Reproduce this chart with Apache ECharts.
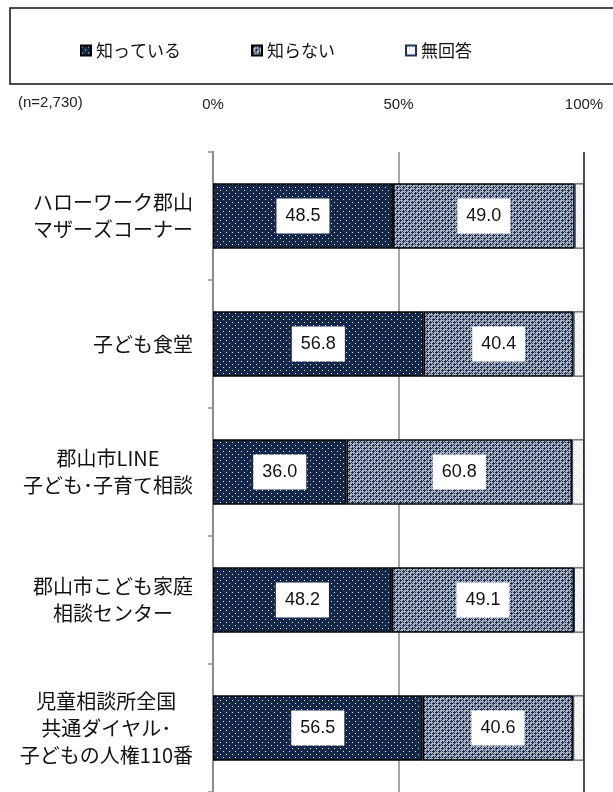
<!DOCTYPE html>
<html>
<head>
<meta charset="utf-8">
<script src="https://cdn.jsdelivr.net/npm/echarts@6/dist/echarts.min.js"></script>
<style>
html,body{margin:0;padding:0;background:#fff;}
#chart{width:613px;height:792px;}
</style>
</head>
<body>
<div id="chart"></div>
<script>
// ---- data ----
const categories = [
  'ハローワーク郡山\nマザーズコーナー',
  '子ども食堂',
  '郡山市LINE\n子ども･子育て相談',
  '郡山市こども家庭\n相談センター',
  '児童相談所全国\n共通ダイヤル･\n子どもの人権110番'
];
const seriesNames = ['知っている', '知らない', '無回答'];
const knowValues = [48.5, 56.8, 36.0, 48.2, 56.5];
const dontKnowValues = [49.0, 40.4, 60.8, 49.1, 40.6];
const noAnswerValues = [2.5, 2.8, 3.2, 2.7, 2.9];
const xTicks = [0, 50, 100];
const sampleNote = '(n=2,730)';

// ---- patterns ----
function makePattern(w, h, bg, fg, pixels) {
  const c = document.createElement('canvas');
  c.width = w; c.height = h;
  const ctx = c.getContext('2d');
  ctx.fillStyle = bg; ctx.fillRect(0, 0, w, h);
  ctx.fillStyle = fg;
  pixels.forEach(p => ctx.fillRect(p[0], p[1], p[2] || 1, p[3] || 1));
  return c;
}
const patKnow = makePattern(6, 6, '#162849', '#e2e8f0', [[1,1],[4,4]]);
const patDont = makePattern(6, 6, '#a9b3c1', '#1c2d4d',
  [[1,0],[0,1],[1,1],[2,1],[1,2],[4,3],[3,4],[4,4],[5,4],[4,5],[4,1],[1,4],[3,0],[0,3]]);
const patNo = makePattern(6, 6, '#f7f5f2', '#dcd7d2', [[1,1],[4,4]]);

const chart = echarts.init(document.getElementById('chart'), null, {renderer: 'canvas'});

const labelStyle = {
  show: true,
  position: 'inside',
  formatter: p => p.value.toFixed(1),
  color: '#111',
  fontSize: 18,
  fontFamily: 'Liberation Sans, Arial, sans-serif',
  backgroundColor: '#fff',
  padding: [9, 9, 8, 9]
};

const fontJP = '"Noto Sans CJK JP", "Noto Sans", sans-serif';

const option = {
  animation: false,
  backgroundColor: '#fff',
  graphic: [
    {
      type: 'rect',
      shape: {x: 10, y: 8, width: 640, height: 76},
      style: {fill: 'none', stroke: '#111', lineWidth: 1.5},
      z: 0
    },
    {
      type: 'text',
      left: 18,
      top: 95,
      style: {text: sampleNote, fontSize: 15, fill: '#222', fontFamily: 'Liberation Sans, Arial, sans-serif'}
    }
  ],
  legend: {
    left: 75,
    top: 37,
    icon: 'rect',
    itemWidth: 10,
    itemHeight: 10,
    itemGap: 70,
    data: seriesNames,
    textStyle: {fontSize: 17, color: '#111', fontFamily: fontJP}
  },
  grid: {left: 213, right: 29, top: 152, height: 643.5, containLabel: false},
  xAxis: {
    type: 'value',
    position: 'top',
    min: 0,
    max: 100,
    interval: 50,
    axisLine: {show: false},
    axisTick: {show: false},
    axisLabel: {
      formatter: '{value}%',
      fontSize: 15,
      color: '#222',
      margin: 40,
      fontFamily: 'Liberation Sans, Arial, sans-serif'
    },
    splitLine: {show: true, lineStyle: {color: ['#888', '#888', '#111'], width: 1.5}}
  },
  yAxis: {
    type: 'category',
    inverse: true,
    data: categories,
    axisLine: {show: true, lineStyle: {color: '#8a8a8a', width: 2}},
    axisTick: {show: true, length: 5, lineStyle: {color: '#8a8a8a', width: 1.5}},
    axisLabel: {
      margin: 20,
      fontSize: 20,
      color: '#111',
      fontFamily: fontJP,
      lineHeight: 27,
      formatter: v => v.split('\n').map(s => '{c|' + s + '}').join('\n'),
      rich: {c: {align: 'center', fontSize: 20, lineHeight: 27, fontFamily: fontJP, color: '#111'}}
    }
  },
  series: [
    {
      name: seriesNames[0],
      type: 'bar',
      stack: 'total',
      barWidth: '51%',
      data: knowValues,
      itemStyle: {color: {image: patKnow, repeat: 'repeat'}, borderColor: '#000', borderWidth: 1.5},
      label: labelStyle
    },
    {
      name: seriesNames[1],
      type: 'bar',
      stack: 'total',
      data: dontKnowValues,
      itemStyle: {color: {image: patDont, repeat: 'repeat'}, borderColor: '#000', borderWidth: 1.5},
      label: labelStyle
    },
    {
      name: seriesNames[2],
      type: 'bar',
      stack: 'total',
      data: noAnswerValues,
      itemStyle: {color: {image: patNo, repeat: 'repeat'}, borderColor: '#1f3358', borderWidth: 1},
      label: {show: false}
    }
  ]
};
chart.setOption(option);
</script>
</body>
</html>
